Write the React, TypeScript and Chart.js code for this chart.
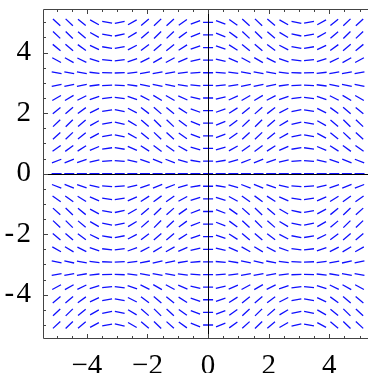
import React, { useEffect, useRef } from "react";
import { Chart, registerables } from "chart.js";

Chart.register(...registerables);

// Grid of sample points (data units)
const gridX = [-5, -4.583, -4.167, -3.75, -3.333, -2.917, -2.5, -2.083, -1.667, -1.25, -0.833, -0.417, 0, 0.417, 0.833, 1.25, 1.667, 2.083, 2.5, 2.917, 3.333, 3.75, 4.167, 4.583, 5];
const gridY = [-5, -4.583, -4.167, -3.75, -3.333, -2.917, -2.5, -2.083, -1.667, -1.25, -0.833, -0.417, 0, 0.417, 0.833, 1.25, 1.667, 2.083, 2.5, 2.917, 3.333, 3.75, 4.167, 4.583, 5];
// slope at (gridX[i], gridY[j]) = colSlopeFactor[i] * rowSlopeFactor[j]
const colSlopeFactor = [0.96, 0.99, 0.85, 0.57, 0.19, -0.22, -0.6, -0.87, -1.0, -0.95, -0.74, -0.4, 0, 0.4, 0.74, 0.95, 1.0, 0.87, 0.6, 0.22, -0.19, -0.57, -0.85, -0.99, -0.96];
const rowSlopeFactor = [0.96, 0.99, 0.85, 0.57, 0.19, -0.22, -0.6, -0.87, -1.0, -0.95, -0.74, -0.4, 0, 0.4, 0.74, 0.95, 1.0, 0.87, 0.6, 0.22, -0.19, -0.57, -0.85, -0.99, -0.96];

const xTickValues = [-4, -2, 0, 2, 4];
const xTickLabels = ["\u22124", "\u22122", "0", "2", "4"];
const yTickValues = [-4, -2, 0, 2, 4];
const yTickLabels = ["-\u200A4", "-\u200A2", "0", "2", "4"];
const minorTickValues = [-5, -4.5, -3.5, -3, -2.5, -1.5, -1, -0.5, 0.5, 1, 1.5, 2.5, 3, 3.5, 4.5, 5];

const X_MIN = -5.45;
const X_MAX = 5.28;
const Y_MIN = -5.43;
const Y_MAX = 5.44;
const DASH_LENGTH = 0.33;

const FONT = "'Liberation Serif', 'Times New Roman', serif";

function buildDashData() {
  const pts: { x: number; y: number | null }[] = [];
  for (let i = 0; i < gridX.length; i++) {
    for (let j = 0; j < gridY.length; j++) {
      const s = colSlopeFactor[i] * rowSlopeFactor[j];
      const th = Math.atan(s);
      const dx = (DASH_LENGTH / 2) * Math.cos(th);
      const dy = (DASH_LENGTH / 2) * Math.sin(th);
      const cx = gridX[i];
      const cy = gridY[j];
      pts.push({ x: cx - dx, y: cy - dy });
      pts.push({ x: cx + dx, y: cy + dy });
      pts.push({ x: cx, y: null });
    }
  }
  return pts;
}

const framePlugin = {
  id: "framePlugin",
  afterDatasetsDraw(chart: any) {
    const ctx = chart.ctx;
    const xs = chart.scales.x;
    const ys = chart.scales.y;
    const a = chart.chartArea;
    ctx.save();
    // axes through origin
    ctx.strokeStyle = "#000";
    ctx.lineWidth = 1;
    const px0 = Math.round(xs.getPixelForValue(0)) + 0.5;
    const py0 = Math.round(ys.getPixelForValue(0)) + 0.5;
    ctx.beginPath();
    ctx.moveTo(px0, a.top);
    ctx.lineTo(px0, a.bottom);
    ctx.moveTo(a.left, py0);
    ctx.lineTo(a.right, py0);
    ctx.stroke();

    // frame (left, top, bottom)
    ctx.strokeStyle = "#444";
    const L = Math.round(a.left) + 0.5;
    const T = Math.round(a.top) + 0.5;
    const B = Math.round(a.bottom) + 0.5;
    ctx.beginPath();
    ctx.moveTo(a.right + 2, T);
    ctx.lineTo(L, T);
    ctx.lineTo(L, B);
    ctx.lineTo(a.right + 2, B);
    ctx.stroke();

    // ticks (inward)
    const drawX = (v: number, len: number) => {
      const p = Math.round(xs.getPixelForValue(v)) + 0.5;
      if (p < a.left || p > a.right) return;
      ctx.moveTo(p, B);
      ctx.lineTo(p, B - len);
      ctx.moveTo(p, T);
      ctx.lineTo(p, T + len);
    };
    const drawY = (v: number, len: number) => {
      const p = Math.round(ys.getPixelForValue(v)) + 0.5;
      if (p < a.top || p > a.bottom) return;
      ctx.moveTo(L, p);
      ctx.lineTo(L + len, p);
    };
    ctx.beginPath();
    xTickValues.forEach((v) => drawX(v, 4.5));
    minorTickValues.forEach((v) => drawX(v, 2.5));
    yTickValues.forEach((v) => drawY(v, 4.5));
    minorTickValues.forEach((v) => drawY(v, 2.5));
    ctx.stroke();
    ctx.restore();
  },
};

export default function App() {
  const ref = useRef<HTMLCanvasElement | null>(null);
  useEffect(() => {
    document.body.style.margin = "0";
    const canvas = ref.current;
    if (!canvas) return;
    const chart = new Chart(canvas, {
      type: "scatter",
      data: {
        datasets: [
          {
            data: buildDashData() as any,
            showLine: true,
            spanGaps: false,
            borderColor: "#1010ff",
            borderWidth: 1.3,
            pointRadius: 0,
            pointHoverRadius: 0,
            borderCapStyle: "butt",
          } as any,
        ],
      },
      options: {
        animation: false,
        responsive: false,
        devicePixelRatio: 1,
        layout: { padding: { top: 9, right: 0, left: 0, bottom: 0 } },
        plugins: { legend: { display: false }, tooltip: { enabled: false } },
        scales: {
          x: {
            type: "linear",
            position: "bottom",
            min: X_MIN,
            max: X_MAX,
            afterBuildTicks: (s: any) => {
              s.ticks = xTickValues.map((v) => ({ value: v }));
            },
            afterFit: (s: any) => {
              s.height = 35;
              s.paddingLeft = 0;
              s.paddingRight = 0;
              s.paddingTop = 0;
              s.paddingBottom = 0;
            },
            ticks: {
              autoSkip: false,
              maxRotation: 0,
              padding: 3,
              color: "#000",
              font: { family: FONT, size: 29 },
              callback: (v: any) => xTickLabels[xTickValues.indexOf(Number(v))] ?? "",
            },
            grid: { display: false },
            border: { display: false },
          },
          y: {
            type: "linear",
            position: "left",
            min: Y_MIN,
            max: Y_MAX,
            afterBuildTicks: (s: any) => {
              s.ticks = yTickValues.map((v) => ({ value: v }));
            },
            afterFit: (s: any) => {
              s.width = 43;
              s.paddingLeft = 0;
              s.paddingRight = 0;
              s.paddingTop = 0;
              s.paddingBottom = 0;
            },
            ticks: {
              autoSkip: false,
              padding: 4,
              color: "#000",
              font: { family: FONT, size: 29 },
              callback: (v: any) => yTickLabels[yTickValues.indexOf(Number(v))] ?? "",
            },
            grid: { display: false },
            border: { display: false },
          },
        },
      },
      plugins: [framePlugin],
    });
    return () => chart.destroy();
  }, []);
  return <canvas ref={ref} width={368} height={373} style={{ display: "block" }} />;
}
